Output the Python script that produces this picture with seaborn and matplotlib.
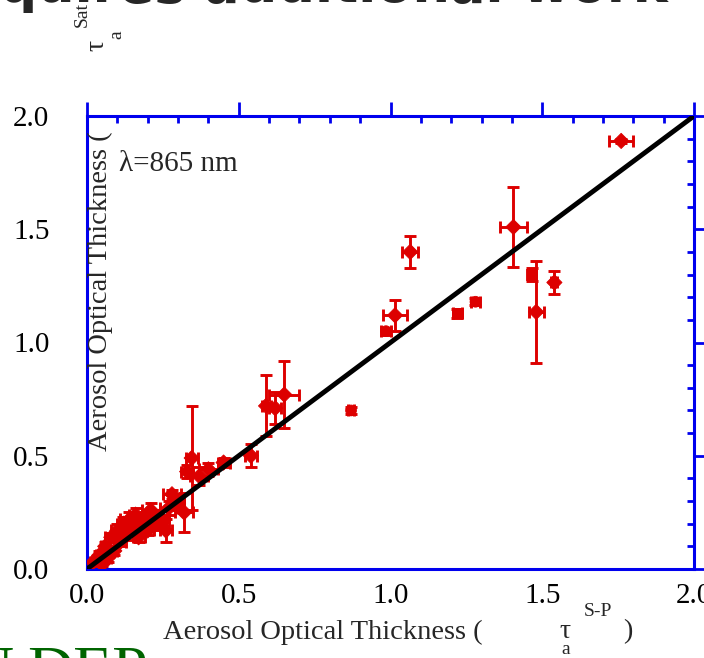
import pandas as pd
import matplotlib.pyplot as plt
import seaborn as sns
from matplotlib.ticker import MultipleLocator, FormatStrFormatter

# Data (x = sun-photometer AOT, y = satellite AOT)
aot_sp = [0.02, 0.04, 0.05, 0.06, 0.07, 0.08, 0.09, 0.10, 0.11, 0.12,
          0.13, 0.14, 0.15, 0.16, 0.17, 0.18, 0.19, 0.20, 0.21, 0.22,
          0.235, 0.25, 0.26, 0.27, 0.28, 0.30, 0.32, 0.33, 0.345, 0.37,
          0.40, 0.45, 0.54, 0.59, 0.62, 0.65, 0.87, 0.985, 1.015, 1.065,
          1.22, 1.28, 1.405, 1.465, 1.48, 1.54, 1.76]
aot_sat = [0.03, 0.06, 0.02, 0.10, 0.05, 0.14, 0.08, 0.17, 0.12, 0.20,
           0.15, 0.22, 0.18, 0.24, 0.14, 0.20, 0.22, 0.17, 0.26, 0.19,
           0.23, 0.21, 0.17, 0.27, 0.33, 0.29, 0.25, 0.43, 0.49, 0.41,
           0.44, 0.47, 0.50, 0.72, 0.71, 0.77, 0.70, 1.05, 1.12, 1.40,
           1.13, 1.18, 1.51, 1.30, 1.135, 1.265, 1.89]
err_x = [0.01, 0.01, 0.01, 0.015, 0.01, 0.02, 0.01, 0.02, 0.02, 0.02,
         0.02, 0.03, 0.02, 0.02, 0.02, 0.02, 0.02, 0.02, 0.03, 0.02,
         0.03, 0.02, 0.02, 0.03, 0.03, 0.02, 0.03, 0.02, 0.02, 0.03,
         0.03, 0.02, 0.02, 0.015, 0.02, 0.05, 0.01, 0.015, 0.039, 0.027,
         0.015, 0.015, 0.044, 0.01, 0.025, 0.01, 0.04]
err_y = [0.01, 0.02, 0.01, 0.02, 0.02, 0.02, 0.02, 0.03, 0.02, 0.03,
         0.02, 0.03, 0.02, 0.03, 0.02, 0.02, 0.03, 0.02, 0.03, 0.02,
         0.03, 0.03, 0.05, 0.03, 0.02, 0.03, 0.085, 0.03, 0.23, 0.04,
         0.03, 0.02, 0.05, 0.135, 0.07, 0.147, 0.015, 0.015, 0.069, 0.07,
         0.02, 0.015, 0.175, 0.03, 0.224, 0.049, 0.01]
marker_kind = ['D'] * 36 + ['o', 'o', 'D', 'D', 's', 'o', 'D', 's', 'D', 'D', 'D']

line_x = [0.0, 2.0]
line_y = [0.0, 2.0]

red = '#DD0000'
blue = '#0000EE'

df = pd.DataFrame({'x': aot_sp, 'y': aot_sat, 'xerr': err_x, 'yerr': err_y, 'kind': marker_kind})

sns.set_theme(style='white')
plt.rcParams['font.family'] = ['Liberation Serif', 'DejaVu Serif']

fig = plt.figure(figsize=(7.04, 6.58), dpi=100)
ax = fig.add_axes([87 / 704, 1 - 569 / 658, 607 / 704, 453 / 658])

ax.errorbar(df['x'], df['y'], xerr=df['xerr'], yerr=df['yerr'], fmt='none',
            ecolor=red, elinewidth=2.1, capsize=4.5, capthick=2.1, zorder=2)
sns.scatterplot(data=df, x='x', y='y', style='kind',
                markers={'D': 'D', 'o': 'o', 's': 's'}, color=red,
                edgecolor=red, s=60, legend=False, ax=ax, zorder=3)
sns.lineplot(x=line_x, y=line_y, color='black', lw=3.5, ax=ax, zorder=4)

ax.set_xlim(0, 2)
ax.set_ylim(0, 2)
ax.set_xlabel('')
ax.set_ylabel('')
for axis in (ax.xaxis, ax.yaxis):
    axis.set_major_locator(MultipleLocator(0.5))
    axis.set_minor_locator(MultipleLocator(0.1))
    axis.set_major_formatter(FormatStrFormatter('%.1f'))
for sp in ax.spines.values():
    sp.set_color(blue)
    sp.set_linewidth(2.2)
ax.tick_params(which='major', direction='out', length=10, width=2, color=blue,
               top=True, right=True, labelsize=21, labelcolor='black')
ax.tick_params(which='minor', direction='in', length=5, width=2, color=blue,
               top=True, right=True)
ax.tick_params(axis='x', which='major', pad=0)
ax.tick_params(axis='y', which='major', pad=17)

ax.text(0.105, 1.79, 'λ=865 nm', fontsize=21, ha='left', va='center')

# axis labels, placed as on the slide
fig.text(163 / 704, 1 - 632 / 658, 'Aerosol Optical Thickness (', fontsize=20.5, ha='left', va='center')
fig.text(565 / 704, 1 - 632 / 658, 'τ', fontsize=20, ha='center', va='center')
fig.text(598 / 704, 1 - 611 / 658, 'S-P', fontsize=14, ha='center', va='center')
fig.text(566 / 704, 1 - 650 / 658, 'a', fontsize=14, ha='center', va='center')
fig.text(628 / 704, 1 - 632 / 658, ')', fontsize=20.5, ha='center', va='center')

fig.text(100 / 704, 1 - 291 / 658, 'Aerosol Optical Thickness (', fontsize=20.5,
         rotation=90, ha='center', va='center')
fig.text(97 / 704, 1 - 45 / 658, 'τ', fontsize=20, rotation=90, ha='center', va='center')
fig.text(117 / 704, 1 - 35 / 658, 'a', fontsize=14, rotation=90, ha='center', va='center')
fig.text(82 / 704, 1 - 27 / 658, 'Sat', fontsize=14, rotation=90, ha='center', va='bottom')

# slide pieces around the chart
fig.text(668 / 704, 1 - 2 / 658, 'Requires additional work', fontsize=38,
         family='DejaVu Sans', fontweight='bold', ha='right', va='baseline')
fig.text(27 / 704, 1 - 690 / 658, 'DEP', fontsize=46, color='#006400', ha='left', va='baseline')
fig.text(13 / 704, 1 - 690 / 658, 'N', fontsize=46, color='#006400', ha='right', va='baseline')

fig.savefig('out.png', dpi=100)
